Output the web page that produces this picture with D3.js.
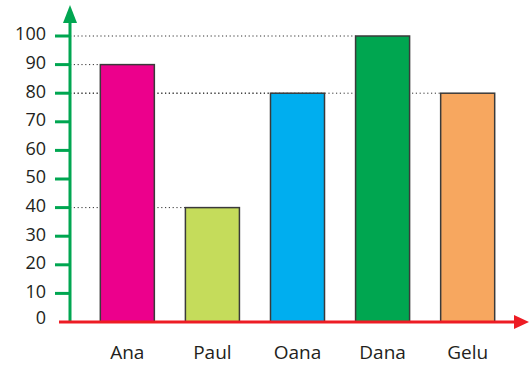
<!DOCTYPE html>
<html>
<head>
<meta charset="utf-8">
<script src="https://cdn.jsdelivr.net/npm/d3@7"></script>
<style>
  html, body { margin: 0; padding: 0; background: #fff; }
  svg { display: block; }
  text { font-family: "Open Sans", sans-serif; fill: #231f20; }
</style>
</head>
<body>
<svg id="chart" width="529" height="366"></svg>
<script>
// Data
const names = ["Ana", "Paul", "Oana", "Dana", "Gelu"];
const scores = [90, 40, 80, 100, 80];
const barColors = ["#ec008c", "#c5dc5b", "#00aeef", "#00a650", "#f7a75f"];
const yTicks = [0, 10, 20, 30, 40, 50, 60, 70, 80, 90, 100];

const svg = d3.select("#chart");
const x0 = 70, yBase = 322;

const x = d3.scaleBand().domain(names).range([85, 510]).paddingInner(0.365).paddingOuter(0.18);
const y = d3.scaleLinear().domain([0, 100]).range([yBase, 36]);

// Dotted guide lines from the axis to each bar top
const rows = names.map((n, i) => ({ name: n, v: scores[i], color: barColors[i] }));
svg.append("g").selectAll("line").data(rows).join("line")
  .attr("x1", x0).attr("x2", d => x(d.name))
  .attr("y1", d => y(d.v)).attr("y2", d => y(d.v))
  .attr("stroke", "#333").attr("stroke-width", 1)
  .attr("stroke-dasharray", "1.2,2.6");

// Bars
svg.append("g").selectAll("rect").data(rows).join("rect")
  .attr("x", d => x(d.name)).attr("width", x.bandwidth())
  .attr("y", d => y(d.v)).attr("height", d => yBase - y(d.v))
  .attr("fill", d => d.color)
  .attr("stroke", "#3a3a3a").attr("stroke-width", 1.5);

// Y axis (green) with ticks and arrow
const green = "#00a651";
const yAxis = svg.append("g");
yAxis.selectAll("line.tick").data(yTicks.filter(t => t > 0)).join("line")
  .attr("class", "tick")
  .attr("x1", 55).attr("x2", x0)
  .attr("y1", d => y(d)).attr("y2", d => y(d))
  .attr("stroke", green).attr("stroke-width", 3);
yAxis.append("line")
  .attr("x1", x0).attr("x2", x0).attr("y1", yBase).attr("y2", 20)
  .attr("stroke", green).attr("stroke-width", 3);
yAxis.append("path")
  .attr("d", `M${x0},5 L${x0 - 7},23 L${x0 + 7},23 Z`)
  .attr("fill", green);

yAxis.selectAll("text").data(yTicks).join("text")
  .attr("x", 46)
  .attr("y", d => y(d) - (d === 0 ? 4 : 2))
  .attr("dy", "0.36em")
  .attr("text-anchor", "end")
  .attr("font-size", 18)
  .text(d => d);

// X axis (red) with arrow
const red = "#ed1c24";
svg.append("line")
  .attr("x1", 59).attr("x2", 518).attr("y1", yBase).attr("y2", yBase)
  .attr("stroke", red).attr("stroke-width", 3);
svg.append("path")
  .attr("d", `M529,${yBase} L514,${yBase - 7} L514,${yBase + 7} Z`)
  .attr("fill", red);

// Category labels
svg.append("g").selectAll("text").data(names).join("text")
  .attr("x", d => x(d) + x.bandwidth() / 2)
  .attr("y", 359)
  .attr("text-anchor", "middle")
  .attr("font-size", 19)
  .text(d => d);
</script>
</body>
</html>
